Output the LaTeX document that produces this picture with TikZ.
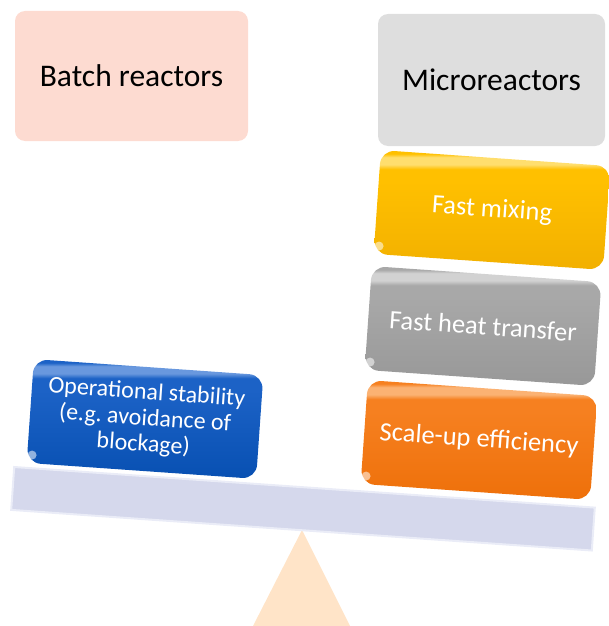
\documentclass[tikz,border=0pt]{standalone}
\usepackage{fontspec}
\setmainfont{Carlito}
\usetikzlibrary{calc}
\definecolor{pinkhd}{RGB}{253,219,209}
\definecolor{greyhd}{RGB}{222,222,222}
\definecolor{goldM}{RGB}{255,192,0}
\definecolor{goldB}{RGB}{242,176,0}
\definecolor{goldL}{RGB}{255,222,110}
\definecolor{greyM}{RGB}{168,168,168}
\definecolor{greyB}{RGB}{152,152,152}
\definecolor{greyL}{RGB}{210,210,210}
\definecolor{orangeM}{RGB}{246,128,32}
\definecolor{orangeB}{RGB}{238,112,10}
\definecolor{orangeL}{RGB}{251,178,115}
\definecolor{blueM}{RGB}{28,98,198}
\definecolor{blueB}{RGB}{8,80,178}
\definecolor{blueL}{RGB}{105,152,222}
\definecolor{beamC}{RGB}{213,216,236}
\definecolor{beamL}{RGB}{234,236,247}
\definecolor{fulcC}{RGB}{255,228,200}
\pgfdeclareverticalshading{glossgold}{100bp}{color(0bp)=(goldB); color(25bp)=(goldB); color(62bp)=(goldM); color(67bp)=(goldM); color(69bp)=(goldL); color(72bp)=(goldL); color(73.5bp)=(goldM); color(100bp)=(goldM)}
\pgfdeclareverticalshading{glossgrey}{100bp}{color(0bp)=(greyB); color(25bp)=(greyB); color(62bp)=(greyM); color(67bp)=(greyM); color(69bp)=(greyL); color(72bp)=(greyL); color(73.5bp)=(greyM); color(100bp)=(greyM)}
\pgfdeclareverticalshading{glossorange}{100bp}{color(0bp)=(orangeB); color(25bp)=(orangeB); color(62bp)=(orangeM); color(67bp)=(orangeM); color(69bp)=(orangeL); color(72bp)=(orangeL); color(73.5bp)=(orangeM); color(100bp)=(orangeM)}
\pgfdeclareverticalshading{glossblue}{100bp}{color(0bp)=(blueB); color(25bp)=(blueB); color(62bp)=(blueM); color(67bp)=(blueM); color(69bp)=(blueL); color(72bp)=(blueL); color(73.5bp)=(blueM); color(100bp)=(blueM)}
\tikzset{
  hdr/.style={rounded corners=10pt, inner sep=0pt, text=black, font=\fontsize{31.5}{37}\selectfont},
  glossbox/.style={rounded corners=14pt, minimum width=230pt, minimum height=104pt, rotate=-4,
    inner sep=0pt, text=white, align=center, font=\fontsize{26.5}{30}\selectfont},
  smalltext/.style={font=\fontsize{24}{26}\selectfont},
  glint/.style={fill=white, opacity=0.55},
  beambar/.style={fill=beamC, draw=beamL, line width=2pt, minimum width=582pt, minimum height=43pt, rotate=-4, inner sep=0pt},
  fulcrum/.style={fill=fulcC}
}
\newcommand{\glintat}[1]{%
  \fill[glint] ($($(#1.south west)!0.022!(#1.south east)$)!0.08!($(#1.north west)!0.022!(#1.north east)$)$) circle (4.5pt);}
\begin{document}
\begin{tikzpicture}[x=1pt,y=-1pt]
\useasboundingbox (0,0) rectangle (608,626);
% fulcrum
\coordinate (apex) at (302,530);
\coordinate (bl) at (253,626);
\coordinate (br) at (350,626);
\fill[fulcrum] (apex) -- (bl) -- (br) -- cycle;
% beam
\node[beambar] (beam) at (303,508.75) {};
% headers
\node[hdr, fill=pinkhd, minimum width=233pt, minimum height=130pt] (batch) at (131.5,76) {Batch reactors};
\node[hdr, fill=greyhd, minimum width=227pt, minimum height=132pt] (micro) at (491.5,80) {Microreactors};
% weights
\node[glossbox, shading=glossgold] (mix) at (492,210) {Fast mixing};
\node[glossbox, shading=glossgrey] (heat) at (483,326) {Fast heat transfer};
\node[glossbox, shading=glossorange] (scale) at (479,440) {Scale-up efficiency};
\node[glossbox, smalltext, shading=glossblue] (stab) at (145,419) {Operational stability\\(e.g.\ avoidance of\\blockage)};
\glintat{mix}
\glintat{heat}
\glintat{scale}
\glintat{stab}
\end{tikzpicture}
\end{document}
